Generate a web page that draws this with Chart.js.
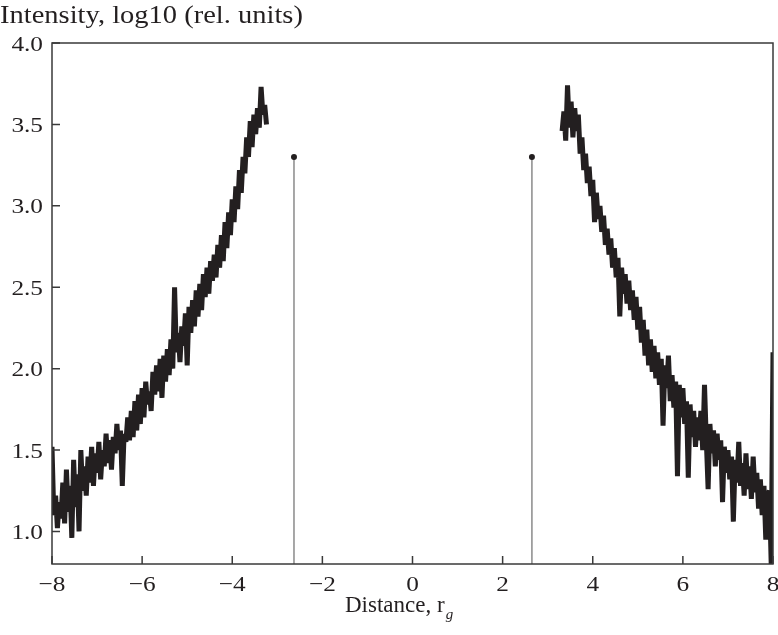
<!DOCTYPE html>
<html>
<head>
<meta charset="utf-8">
<script src="https://cdn.jsdelivr.net/npm/chart.js@4.4.1/dist/chart.umd.min.js"></script>
<style>
  html, body { margin: 0; padding: 0; background: #fff; }
  #wrap { width: 778px; height: 635px; }
</style>
</head>
<body>
<div id="wrap"><canvas id="profile"></canvas></div>
<script>
const step = 0.04;
const leftStart = -8.0;
const leftValues = [
  1.52, 1.10, 1.22, 1.02, 1.18, 1.08, 1.30, 1.05, 1.38, 1.12,
  1.28, 0.96, 1.44, 1.15, 1.35, 1.00, 1.50, 1.25, 1.40, 1.22,
  1.46, 1.30, 1.52, 1.28, 1.48, 1.36, 1.55, 1.32, 1.50, 1.40,
  1.60, 1.42, 1.56, 1.38, 1.58, 1.48, 1.66, 1.50, 1.62, 1.28,
  1.60, 1.55, 1.70, 1.56, 1.74, 1.58, 1.80, 1.62, 1.84, 1.66,
  1.88, 1.70, 1.92, 1.78, 1.86, 1.74, 1.98, 1.84, 2.02, 1.86,
  2.06, 1.82, 2.08, 1.92, 2.12, 1.96, 2.18, 2.00, 2.50, 2.10,
  2.22, 2.04, 2.26, 2.14, 2.34, 2.02, 2.38, 2.22, 2.42, 2.26,
  2.48, 2.32, 2.52, 2.36, 2.58, 2.44, 2.62, 2.46, 2.66, 2.54,
  2.70, 2.56, 2.76, 2.62, 2.82, 2.66, 2.90, 2.74, 2.96, 2.82,
  3.04, 2.90, 3.12, 2.98, 3.22, 3.08, 3.30, 3.20, 3.42, 3.30,
  3.52, 3.36, 3.56, 3.44, 3.60, 3.48, 3.73, 3.56, 3.62, 3.50
];
const rightStart = 3.32;
const rightValues = [
  3.46, 3.58, 3.40, 3.74, 3.48, 3.64, 3.42, 3.60, 3.46, 3.56,
  3.32, 3.42, 3.22, 3.32, 3.14, 3.24, 3.06, 3.16, 2.90, 3.08,
  2.92, 3.00, 2.84, 2.94, 2.76, 2.86, 2.70, 2.80, 2.62, 2.74,
  2.56, 2.68, 2.32, 2.62, 2.46, 2.58, 2.40, 2.54, 2.36, 2.48,
  2.30, 2.44, 2.24, 2.38, 2.16, 2.30, 2.08, 2.24, 2.02, 2.18,
  1.98, 2.14, 1.94, 2.10, 1.90, 2.06, 1.65, 2.02, 1.88, 2.08,
  1.80, 1.96, 1.76, 1.92, 1.34, 1.90, 1.70, 1.88, 1.66, 1.80,
  1.33, 1.78, 1.58, 1.74, 1.52, 1.70, 1.56, 1.74, 1.50, 1.90,
  1.56, 1.26, 1.66, 1.48, 1.62, 1.40, 1.60, 1.44, 1.56, 1.18,
  1.52, 1.36, 1.50, 1.32, 1.46, 1.06, 1.44, 1.30, 1.55, 1.28,
  1.42, 1.22, 1.48, 1.26, 1.40, 1.20, 1.46, 1.24, 1.36, 1.14,
  1.32, 1.10, 1.28, 0.95, 1.22, 1.25, 0.80, 2.10
];
// the two marker stems
const stemX = [-2.63, 2.65];
const stemTop = 3.3;

const xTicks = [-8, -6, -4, -2, 0, 2, 4, 6, 8];
const yTicks = [1.0, 1.5, 2.0, 2.5, 3.0, 3.5, 4.0];
const xMin = -8, xMax = 8, yMin = 0.8, yMax = 4.0;

const ink = "#231f20";
const font = "Liberation Serif";

const toPoints = (start, vals) => vals.map((v, i) => ({ x: +(start + i * step).toFixed(2), y: v }));

const curveStyle = {
  borderColor: ink,
  borderWidth: 5,
  borderJoinStyle: "bevel",
  pointRadius: 0,
  tension: 0,
  fill: false,
};

const stemSets = stemX.map((sx) => ({
  data: [{ x: sx, y: yMin }, { x: sx, y: stemTop }],
  borderColor: "#8a8a8a",
  borderWidth: 1.5,
  pointRadius: [0, 3],
  pointBackgroundColor: ink,
  pointBorderColor: ink,
  pointBorderWidth: 0,
  tension: 0,
}));

// text drawn stretched a little, the figure's serif face is wider than ours
function stretchText(ctx, txt, x, y, sx, align) {
  ctx.save();
  const w = ctx.measureText(txt).width * sx;
  let left = x;
  if (align === "center") left = x - w / 2;
  if (align === "right") left = x - w;
  ctx.translate(left, y);
  ctx.scale(sx, 1);
  ctx.textAlign = "left";
  ctx.fillText(txt, 0, 0);
  ctx.restore();
  return w;
}

// frame, inward ticks, tick labels and axis titles
const framePlugin = {
  id: "frame",
  afterDraw(chart) {
    const { ctx, chartArea: a, scales } = chart;
    ctx.save();
    ctx.strokeStyle = "#3a3a3a";
    ctx.lineWidth = 1.5;
    ctx.strokeRect(a.left, a.top, a.right - a.left, a.bottom - a.top);
    ctx.beginPath();
    xTicks.forEach((t) => {
      const px = scales.x.getPixelForValue(t);
      ctx.moveTo(px, a.bottom);
      ctx.lineTo(px, a.bottom - 8);
    });
    yTicks.forEach((t) => {
      const py = scales.y.getPixelForValue(t);
      ctx.moveTo(a.left, py);
      ctx.lineTo(a.left + 8, py);
    });
    ctx.stroke();

    ctx.fillStyle = ink;
    ctx.textBaseline = "alphabetic";
    ctx.font = `22px "${font}"`;
    xTicks.forEach((t) => {
      const lab = t < 0 ? "\u2212" + Math.abs(t) : String(t);
      stretchText(ctx, lab, scales.x.getPixelForValue(t), a.bottom + 27, 1.15, "center");
    });
    yTicks.forEach((t) => {
      stretchText(ctx, t.toFixed(1), a.left - 9, scales.y.getPixelForValue(t) + 7.5, 1.15, "right");
    });

    ctx.font = `25px "${font}"`;
    stretchText(ctx, "Intensity, log10 (rel. units)", 0, 23, 1.14, "left");

    ctx.font = `23px "${font}"`;
    const w = stretchText(ctx, "Distance, r", 345, 612, 1.0, "left");
    ctx.font = `italic 15px "${font}"`;
    ctx.fillText("g", 345 + w + 1, 619);
    ctx.restore();
  },
};

new Chart(document.getElementById("profile"), {
  type: "line",
  data: {
    datasets: [
      { ...curveStyle, data: toPoints(leftStart, leftValues) },
      { ...curveStyle, data: toPoints(rightStart, rightValues) },
      ...stemSets,
    ],
  },
  options: {
    responsive: true,
    maintainAspectRatio: false,
    animation: false,
    events: [],
    layout: { padding: { left: 0, top: 43, right: 5, bottom: 0 } },
    plugins: { legend: { display: false }, tooltip: { enabled: false } },
    scales: {
      x: {
        type: "linear",
        min: xMin,
        max: xMax,
        afterBuildTicks: (s) => { s.ticks = xTicks.map((v) => ({ value: v })); },
        afterFit: (s) => { s.height = 71; },
        grid: { display: false, drawTicks: false },
        border: { display: false },
        ticks: { display: false },
      },
      y: {
        type: "linear",
        min: yMin,
        max: yMax,
        afterBuildTicks: (s) => { s.ticks = yTicks.map((v) => ({ value: v })); },
        afterFit: (s) => { s.width = 52; },
        grid: { display: false, drawTicks: false },
        border: { display: false },
        ticks: { display: false },
      },
    },
  },
  plugins: [framePlugin],
});
</script>
</body>
</html>
